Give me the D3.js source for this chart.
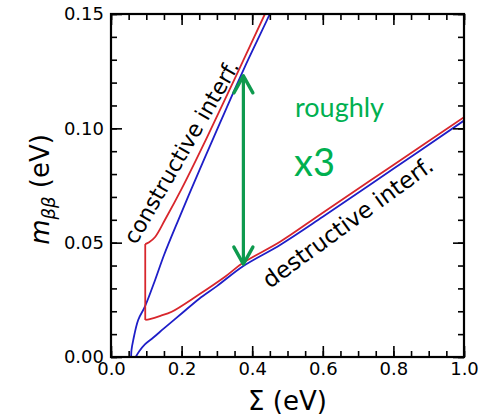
<!DOCTYPE html>
<html>
<head>
<meta charset="utf-8">
<script src="https://cdn.jsdelivr.net/npm/d3@7"></script>
<style>
  html, body { margin: 0; padding: 0; background: #ffffff; }
  svg { display: block; }
</style>
</head>
<body>
<div id="chart"></div>
<script>
// Effective Majorana mass versus the sum of neutrino masses.
// Each band edge is a list of [Sigma (eV), m_bb (eV)] points.

// normal ordering (blue): maximal and minimal m_bb
const normalUpper = [
  [0.057, 0.000], [0.058, 0.003], [0.063, 0.0074], [0.077, 0.0162], [0.096, 0.022],
  [0.125, 0.0337], [0.150, 0.0445], [0.191, 0.060], [0.250, 0.0815], [0.290, 0.0957],
  [0.375, 0.1255], [0.450, 0.150], [0.470, 0.157]
];
const normalLower = [
  [0.070, 0.000], [0.080, 0.0025], [0.096, 0.0055], [0.120, 0.0085], [0.150, 0.0125],
  [0.200, 0.0190], [0.250, 0.0255], [0.300, 0.0310], [0.375, 0.0398], [0.479, 0.0490],
  [0.600, 0.0613], [0.800, 0.0823], [1.000, 0.1034]
];

// inverted ordering (red): maximal and minimal m_bb, joined at the lightest Sigma
const invertedUpper = [
  [0.097, 0.0494], [0.108, 0.0502], [0.125, 0.0525], [0.153, 0.0600], [0.200, 0.0735],
  [0.271, 0.0957], [0.350, 0.1215], [0.436, 0.150], [0.460, 0.158]
];
const invertedLower = [
  [0.097, 0.0162], [0.110, 0.0166], [0.140, 0.0180], [0.172, 0.0198], [0.247, 0.0271],
  [0.323, 0.0351], [0.375, 0.0413], [0.479, 0.0504], [0.600, 0.0631], [0.800, 0.0840],
  [1.000, 0.1049]
];

// tick values
const sigmaTicks = [0.0, 0.2, 0.4, 0.6, 0.8, 1.0];
const sigmaMinorTicks = d3.range(0, 1.0001, 0.05);
const massTicks = [0.00, 0.05, 0.10, 0.15];
const massMinorTicks = d3.range(0, 0.1501, 0.01);

// annotation values
const arrowSigma = 0.375;
const arrowSpan = [0.0402, 0.1234];
const bandLabels = ["constructive interf.", "destructive interf."];
const ratioNote = ["roughly", "x3"];

const W = 489, H = 415;
const margin = { left: 111, right: 25, top: 14, bottom: 58 };
const plotW = W - margin.left - margin.right;
const plotH = H - margin.top - margin.bottom;

const svg = d3.select("#chart").append("svg")
  .attr("width", W).attr("height", H)
  .attr("viewBox", `0 0 ${W} ${H}`);

const x = d3.scaleLinear().domain([0, 1]).range([margin.left, margin.left + plotW]);
const y = d3.scaleLinear().domain([0, 0.15]).range([margin.top + plotH, margin.top]);

svg.append("defs").append("clipPath").attr("id", "plotClip")
  .append("rect")
  .attr("x", margin.left).attr("y", margin.top)
  .attr("width", plotW).attr("height", plotH);

const curves = svg.append("g").attr("clip-path", "url(#plotClip)");

const smooth = d3.line().x(d => x(d[0])).y(d => y(d[1])).curve(d3.curveCatmullRom.alpha(0.5));
const straight = d3.line().x(d => x(d[0])).y(d => y(d[1]));

const blue = "#1e1ec8";
const red = "#d8262c";

curves.append("path").attr("d", smooth(normalUpper))
  .attr("fill", "none").attr("stroke", blue).attr("stroke-width", 1.8);
curves.append("path").attr("d", smooth(normalLower))
  .attr("fill", "none").attr("stroke", blue).attr("stroke-width", 1.8);

// inverted ordering: upper edge, vertical drop at the lightest Sigma, lower edge
curves.append("path").attr("d", smooth(invertedUpper))
  .attr("fill", "none").attr("stroke", red).attr("stroke-width", 1.8);
curves.append("path").attr("d", straight([invertedUpper[0], invertedLower[0]]))
  .attr("fill", "none").attr("stroke", red).attr("stroke-width", 1.8);
curves.append("path").attr("d", smooth(invertedLower))
  .attr("fill", "none").attr("stroke", red).attr("stroke-width", 1.8);

// axes: ticks point inward on all four sides
const tickFont = "DejaVu Sans, sans-serif";
const axisBottom = d3.axisBottom(x).tickValues(sigmaTicks).tickSize(-11).tickPadding(5)
  .tickFormat(d3.format(".1f"));
const axisTop = d3.axisTop(x).tickValues(sigmaTicks).tickSize(-11).tickFormat("");
const axisLeft = d3.axisLeft(y).tickValues(massTicks).tickSize(-11).tickPadding(7)
  .tickFormat(d3.format(".2f"));
const axisRight = d3.axisRight(y).tickValues(massTicks).tickSize(-11).tickFormat("");

const minorB = d3.axisBottom(x).tickValues(sigmaMinorTicks).tickSize(-6).tickFormat("");
const minorT = d3.axisTop(x).tickValues(sigmaMinorTicks).tickSize(-6).tickFormat("");
const minorL = d3.axisLeft(y).tickValues(massMinorTicks).tickSize(-6).tickFormat("");
const minorR = d3.axisRight(y).tickValues(massMinorTicks).tickSize(-6).tickFormat("");

function styleAxis(g) {
  g.select(".domain").remove();
  g.selectAll(".tick line").attr("stroke", "#000").attr("stroke-width", 1.6);
  g.selectAll(".tick text").attr("fill", "#000")
    .style("font-family", tickFont).style("font-size", "18px");
}

const bottomY = margin.top + plotH, rightX = margin.left + plotW;
svg.append("g").attr("transform", `translate(0,${bottomY})`).call(minorB).call(styleAxis);
svg.append("g").attr("transform", `translate(0,${margin.top})`).call(minorT).call(styleAxis);
svg.append("g").attr("transform", `translate(${margin.left},0)`).call(minorL).call(styleAxis);
svg.append("g").attr("transform", `translate(${rightX},0)`).call(minorR).call(styleAxis);
svg.append("g").attr("transform", `translate(0,${bottomY})`).call(axisBottom).call(styleAxis);
svg.append("g").attr("transform", `translate(0,${margin.top})`).call(axisTop).call(styleAxis);
svg.append("g").attr("transform", `translate(${margin.left},0)`).call(axisLeft).call(styleAxis);
svg.append("g").attr("transform", `translate(${rightX},0)`).call(axisRight).call(styleAxis);

// frame
svg.append("rect")
  .attr("x", margin.left).attr("y", margin.top)
  .attr("width", plotW).attr("height", plotH)
  .attr("fill", "none").attr("stroke", "#000").attr("stroke-width", 2.2);

// axis titles
svg.append("text")
  .attr("x", x(0.5)).attr("y", 410)
  .attr("text-anchor", "middle")
  .style("font-family", tickFont).style("font-size", "26px")
  .text("Σ (eV)");

const yTitle = svg.append("text")
  .attr("transform", `translate(49,${y(0.075) + 4}) rotate(-90)`)
  .attr("text-anchor", "middle")
  .style("font-family", tickFont).style("font-size", "26px");
yTitle.append("tspan").style("font-style", "italic").text("m");
yTitle.append("tspan").style("font-style", "italic").style("font-size", "18px")
  .attr("dy", 6).text("ββ");
yTitle.append("tspan").attr("dy", -6).text(" (eV)");

// band labels along the edges
svg.append("text")
  .attr("transform", `translate(${x(0.218)},${y(0.088)}) rotate(-60)`)
  .attr("text-anchor", "middle")
  .style("font-family", tickFont).style("font-size", "22px")
  .text(bandLabels[0]);
svg.append("text")
  .attr("transform", `translate(${x(0.684)},${y(0.056)}) rotate(-36)`)
  .attr("text-anchor", "middle")
  .style("font-family", tickFont).style("font-size", "23px")
  .text(bandLabels[1]);

// double-headed arrow spanning the gap between the two edges
const green = "#0e9a4e";
const ax = x(arrowSigma), ay1 = y(arrowSpan[1]), ay0 = y(arrowSpan[0]);
svg.append("line")
  .attr("x1", ax).attr("x2", ax).attr("y1", ay1 + 1).attr("y2", ay0 - 1)
  .attr("stroke", green).attr("stroke-width", 3.2);
svg.append("path")
  .attr("d", `M${ax - 9.5},${ay1 + 18} L${ax},${ay1 + 1} L${ax + 9.5},${ay1 + 18}`)
  .attr("fill", "none").attr("stroke", green).attr("stroke-width", 3.4)
  .attr("stroke-linecap", "round").attr("stroke-linejoin", "round");
svg.append("path")
  .attr("d", `M${ax - 9.5},${ay0 - 18} L${ax},${ay0 - 1} L${ax + 9.5},${ay0 - 18}`)
  .attr("fill", "none").attr("stroke", green).attr("stroke-width", 3.4)
  .attr("stroke-linecap", "round").attr("stroke-linejoin", "round");

const noteFont = "Lato, 'Open Sans', sans-serif";
svg.append("text")
  .attr("x", 295).attr("y", 117)
  .attr("fill", "#00b050")
  .style("font-family", noteFont).style("font-size", "27px")
  .text(ratioNote[0]);
svg.append("text")
  .attr("x", 294).attr("y", 176)
  .attr("fill", "#00b050")
  .style("font-family", noteFont).style("font-size", "38px")
  .text(ratioNote[1]);
</script>
</body>
</html>
